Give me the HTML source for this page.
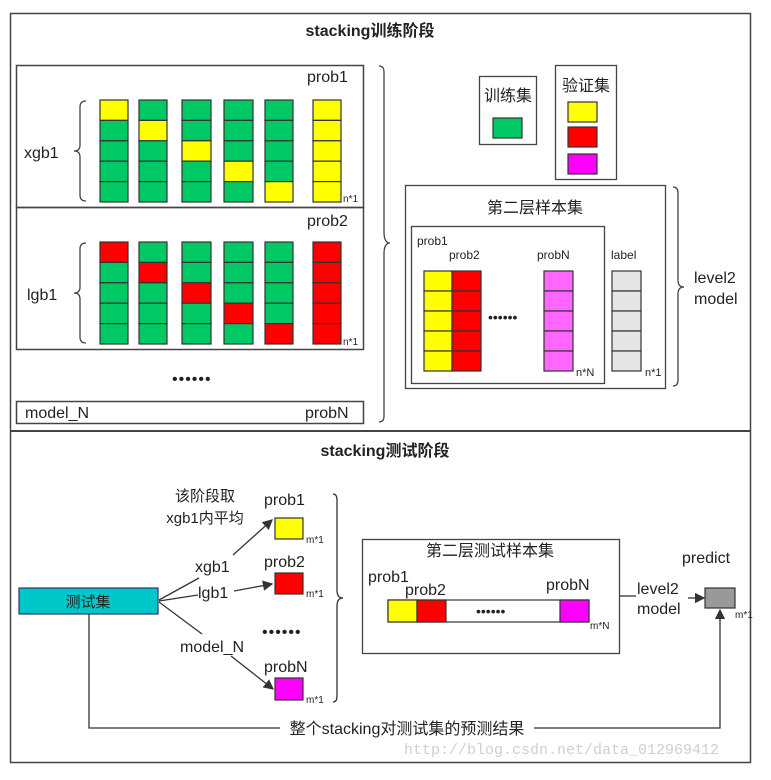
<!DOCTYPE html>
<html><head><meta charset="utf-8"><style>
body{margin:0;background:#fff}
svg{display:block}
text{font-family:"Liberation Sans","Noto Sans CJK SC",sans-serif;fill:#222}
</style></head><body>
<svg width="771" height="780" viewBox="0 0 771 780" xmlns="http://www.w3.org/2000/svg">
<defs><marker id="a" markerWidth="8" markerHeight="8" refX="7" refY="4" orient="auto"><path d="M0,0L8,4L0,8z" fill="#333"/></marker></defs>
<rect x="10.5" y="13.5" width="740" height="749" fill="#fff" stroke="#444" stroke-width="1.5"/>
<line x1="10" y1="431" x2="750" y2="431" stroke="#444" stroke-width="2"/>
<text x="370" y="36" font-size="16" font-weight="bold" text-anchor="middle">stacking训练阶段</text>

<!-- left model boxes -->
<rect x="16.5" y="65.5" width="347" height="142" fill="none" stroke="#444" stroke-width="1.5"/>
<rect x="16.5" y="207.5" width="347" height="142" fill="none" stroke="#444" stroke-width="1.5"/>
<rect x="16.5" y="401.5" width="347" height="22" fill="none" stroke="#444" stroke-width="1.5"/>
<text x="307" y="82" font-size="16">prob1</text>
<text x="307" y="226" font-size="16">prob2</text>
<text x="24" y="158" font-size="16">xgb1</text>
<text x="27" y="300" font-size="16">lgb1</text>
<text x="25" y="418" font-size="16">model_N</text>
<text x="305" y="418" font-size="16">probN</text>
<text x="343" y="202" font-size="10">n*1</text>
<text x="343" y="345" font-size="10">n*1</text>
<text x="172" y="384" font-size="16" letter-spacing="1">••••••</text>
<path d="M86,101 q-6,0 -6,6 v38 q0,6 -6,6 q6,0 6,6 v38 q0,6 6,6" fill="none" stroke="#444" stroke-width="1.3"/>
<path d="M86,243 q-6,0 -6,6 v38 q0,6 -6,6 q6,0 6,6 v38 q0,6 6,6" fill="none" stroke="#444" stroke-width="1.3"/>
<g stroke="#333" stroke-width="1.2" id="g1">
<!-- xgb columns -->
<rect x="100" y="100" width="28" height="20.4" fill="#ffff00"/><rect x="100" y="120.4" width="28" height="20.4" fill="#00c864"/><rect x="100" y="140.8" width="28" height="20.4" fill="#00c864"/><rect x="100" y="161.2" width="28" height="20.4" fill="#00c864"/><rect x="100" y="181.6" width="28" height="20.4" fill="#00c864"/>
<rect x="139" y="100" width="28" height="20.4" fill="#00c864"/><rect x="139" y="120.4" width="28" height="20.4" fill="#ffff00"/><rect x="139" y="140.8" width="28" height="20.4" fill="#00c864"/><rect x="139" y="161.2" width="28" height="20.4" fill="#00c864"/><rect x="139" y="181.6" width="28" height="20.4" fill="#00c864"/>
<rect x="182" y="100" width="29" height="20.4" fill="#00c864"/><rect x="182" y="120.4" width="29" height="20.4" fill="#00c864"/><rect x="182" y="140.8" width="29" height="20.4" fill="#ffff00"/><rect x="182" y="161.2" width="29" height="20.4" fill="#00c864"/><rect x="182" y="181.6" width="29" height="20.4" fill="#00c864"/>
<rect x="224" y="100" width="29" height="20.4" fill="#00c864"/><rect x="224" y="120.4" width="29" height="20.4" fill="#00c864"/><rect x="224" y="140.8" width="29" height="20.4" fill="#00c864"/><rect x="224" y="161.2" width="29" height="20.4" fill="#ffff00"/><rect x="224" y="181.6" width="29" height="20.4" fill="#00c864"/>
<rect x="265" y="100" width="28" height="20.4" fill="#00c864"/><rect x="265" y="120.4" width="28" height="20.4" fill="#00c864"/><rect x="265" y="140.8" width="28" height="20.4" fill="#00c864"/><rect x="265" y="161.2" width="28" height="20.4" fill="#00c864"/><rect x="265" y="181.6" width="28" height="20.4" fill="#ffff00"/>
<rect x="313" y="100" width="28" height="20.4" fill="#ffff00"/><rect x="313" y="120.4" width="28" height="20.4" fill="#ffff00"/><rect x="313" y="140.8" width="28" height="20.4" fill="#ffff00"/><rect x="313" y="161.2" width="28" height="20.4" fill="#ffff00"/><rect x="313" y="181.6" width="28" height="20.4" fill="#ffff00"/>
<!-- lgb columns -->
<rect x="100" y="242" width="28" height="20.4" fill="#ff0000"/><rect x="100" y="262.4" width="28" height="20.4" fill="#00c864"/><rect x="100" y="282.8" width="28" height="20.4" fill="#00c864"/><rect x="100" y="303.2" width="28" height="20.4" fill="#00c864"/><rect x="100" y="323.6" width="28" height="20.4" fill="#00c864"/>
<rect x="139" y="242" width="28" height="20.4" fill="#00c864"/><rect x="139" y="262.4" width="28" height="20.4" fill="#ff0000"/><rect x="139" y="282.8" width="28" height="20.4" fill="#00c864"/><rect x="139" y="303.2" width="28" height="20.4" fill="#00c864"/><rect x="139" y="323.6" width="28" height="20.4" fill="#00c864"/>
<rect x="182" y="242" width="29" height="20.4" fill="#00c864"/><rect x="182" y="262.4" width="29" height="20.4" fill="#00c864"/><rect x="182" y="282.8" width="29" height="20.4" fill="#ff0000"/><rect x="182" y="303.2" width="29" height="20.4" fill="#00c864"/><rect x="182" y="323.6" width="29" height="20.4" fill="#00c864"/>
<rect x="224" y="242" width="29" height="20.4" fill="#00c864"/><rect x="224" y="262.4" width="29" height="20.4" fill="#00c864"/><rect x="224" y="282.8" width="29" height="20.4" fill="#00c864"/><rect x="224" y="303.2" width="29" height="20.4" fill="#ff0000"/><rect x="224" y="323.6" width="29" height="20.4" fill="#00c864"/>
<rect x="265" y="242" width="28" height="20.4" fill="#00c864"/><rect x="265" y="262.4" width="28" height="20.4" fill="#00c864"/><rect x="265" y="282.8" width="28" height="20.4" fill="#00c864"/><rect x="265" y="303.2" width="28" height="20.4" fill="#00c864"/><rect x="265" y="323.6" width="28" height="20.4" fill="#ff0000"/>
<rect x="313" y="242" width="28" height="20.4" fill="#ff0000"/><rect x="313" y="262.4" width="28" height="20.4" fill="#ff0000"/><rect x="313" y="282.8" width="28" height="20.4" fill="#ff0000"/><rect x="313" y="303.2" width="28" height="20.4" fill="#ff0000"/><rect x="313" y="323.6" width="28" height="20.4" fill="#ff0000"/>
</g>
<!-- big brace -->
<path d="M379,66 q5,0 5,6 v160 q0,11 6,11 q-6,0 -6,11 v162 q0,6 -5,6" fill="none" stroke="#444" stroke-width="1.3"/>

<!-- train/valid sets -->
<rect x="479.5" y="76.5" width="57" height="68" fill="none" stroke="#444" stroke-width="1.3"/>
<text x="508" y="101" font-size="16" text-anchor="middle">训练集</text>
<rect x="493" y="118" width="29" height="20" fill="#00c864" stroke="#333" stroke-width="1.2"/>
<rect x="555.5" y="65.5" width="61" height="114" fill="none" stroke="#444" stroke-width="1.3"/>
<text x="586" y="91" font-size="16" text-anchor="middle">验证集</text>
<rect x="568" y="102" width="29" height="20" fill="#ffff00" stroke="#333" stroke-width="1.2"/>
<rect x="568" y="127" width="29" height="20" fill="#ff0000" stroke="#333" stroke-width="1.2"/>
<rect x="568" y="154" width="29" height="20" fill="#ff00ff" stroke="#333" stroke-width="1.2"/>

<!-- level2 sample set -->
<rect x="405.5" y="185.5" width="260" height="203" fill="none" stroke="#444" stroke-width="1.3"/>
<text x="535" y="213" font-size="16" text-anchor="middle">第二层样本集</text>
<rect x="411.5" y="226.5" width="193" height="157" fill="none" stroke="#444" stroke-width="1.3"/>
<text x="417" y="245" font-size="12">prob1</text>
<text x="449" y="259" font-size="12">prob2</text>
<text x="537" y="259" font-size="12">probN</text>
<text x="611" y="259" font-size="12">label</text>
<g stroke="#333" stroke-width="1.2">
<rect x="424" y="271" width="28" height="20" fill="#ffff00"/><rect x="424" y="291" width="28" height="20" fill="#ffff00"/><rect x="424" y="311" width="28" height="20" fill="#ffff00"/><rect x="424" y="331" width="28" height="20" fill="#ffff00"/><rect x="424" y="351" width="28" height="20" fill="#ffff00"/>
<rect x="452" y="271" width="29" height="20" fill="#ff0000"/><rect x="452" y="291" width="29" height="20" fill="#ff0000"/><rect x="452" y="311" width="29" height="20" fill="#ff0000"/><rect x="452" y="331" width="29" height="20" fill="#ff0000"/><rect x="452" y="351" width="29" height="20" fill="#ff0000"/>
<rect x="544" y="271" width="29" height="20" fill="#ff66ff"/><rect x="544" y="291" width="29" height="20" fill="#ff66ff"/><rect x="544" y="311" width="29" height="20" fill="#ff66ff"/><rect x="544" y="331" width="29" height="20" fill="#ff66ff"/><rect x="544" y="351" width="29" height="20" fill="#ff66ff"/>
<rect x="612" y="271" width="29" height="20" fill="#e6e6e6"/><rect x="612" y="291" width="29" height="20" fill="#e6e6e6"/><rect x="612" y="311" width="29" height="20" fill="#e6e6e6"/><rect x="612" y="331" width="29" height="20" fill="#e6e6e6"/><rect x="612" y="351" width="29" height="20" fill="#e6e6e6"/>
</g>
<text x="488" y="322" font-size="14" letter-spacing="0">••••••</text>
<text x="576" y="376" font-size="11">n*N</text>
<text x="645" y="376" font-size="11">n*1</text>
<path d="M673,187 q5,0 5,6 v87 q0,7 6,7 q-6,0 -6,7 v86 q0,6 -5,6" fill="none" stroke="#444" stroke-width="1.3"/>
<text x="694" y="283" font-size="16">level2</text>
<text x="694" y="304" font-size="16">model</text>

<!-- test phase -->
<text x="385" y="456" font-size="16" font-weight="bold" text-anchor="middle">stacking测试阶段</text>
<rect x="19" y="588" width="139" height="26" fill="#00c8c8" stroke="#336" stroke-width="1.2"/>
<text x="88" y="607" font-size="15" text-anchor="middle">测试集</text>
<text x="205" y="501" font-size="15" text-anchor="middle">该阶段取</text>
<text x="205" y="523" font-size="15" text-anchor="middle">xgb1内平均</text>
<text x="264" y="505" font-size="16">prob1</text>
<rect x="275" y="518" width="28" height="21" fill="#ffff00" stroke="#333" stroke-width="1.2"/>
<text x="306" y="543" font-size="10">m*1</text>
<text x="264" y="567" font-size="16">prob2</text>
<rect x="275" y="573" width="28" height="21" fill="#ff0000" stroke="#333" stroke-width="1.2"/>
<text x="306" y="597" font-size="10">m*1</text>
<text x="262" y="637" font-size="16" letter-spacing="1">••••••</text>
<text x="264" y="672" font-size="16">probN</text>
<rect x="275" y="678" width="28" height="22" fill="#ff00ff" stroke="#333" stroke-width="1.2"/>
<text x="306" y="703" font-size="10">m*1</text>
<text x="195" y="572" font-size="16">xgb1</text>
<text x="198" y="598" font-size="16">lgb1</text>
<text x="180" y="652" font-size="16">model_N</text>
<g stroke="#333" stroke-width="1.3" fill="none">
<line x1="159" y1="600" x2="199" y2="578"/>
<line x1="233" y1="555" x2="272" y2="520" marker-end="url(#a)"/>
<line x1="159" y1="601" x2="198" y2="595"/>
<line x1="234" y1="591" x2="272" y2="584" marker-end="url(#a)"/>
<line x1="159" y1="602" x2="202" y2="634"/>
<line x1="231" y1="656" x2="273" y2="689" marker-end="url(#a)"/>
<path d="M333,494 q4,0 4,6 v90 q0,8 6,8 q-6,0 -6,8 v90 q0,6 -4,6"/>
</g>
<rect x="362.5" y="539.5" width="257" height="114" fill="none" stroke="#444" stroke-width="1.3"/>
<text x="490" y="556" font-size="16" text-anchor="middle">第二层测试样本集</text>
<text x="368" y="582" font-size="16">prob1</text>
<text x="405" y="595" font-size="16">prob2</text>
<text x="546" y="590" font-size="16">probN</text>
<rect x="388" y="600" width="201" height="22" fill="#fff" stroke="#333" stroke-width="1.2"/>
<rect x="388" y="600" width="29" height="22" fill="#ffff00" stroke="#333" stroke-width="1.2"/>
<rect x="417" y="600" width="29" height="22" fill="#ff0000" stroke="#333" stroke-width="1.2"/>
<rect x="560" y="600" width="29" height="22" fill="#ff00ff" stroke="#333" stroke-width="1.2"/>
<text x="476" y="616" font-size="14">••••••</text>
<text x="590" y="629" font-size="10">m*N</text>
<line x1="620" y1="596" x2="636" y2="596" stroke="#333" stroke-width="1.3"/>
<text x="637" y="594" font-size="16">level2</text>
<text x="637" y="614" font-size="16">model</text>
<line x1="688" y1="598" x2="704" y2="598" stroke="#333" stroke-width="1.3" marker-end="url(#a)"/>
<rect x="705" y="588" width="30" height="20" fill="#999" stroke="#333" stroke-width="1.2"/>
<text x="682" y="563" font-size="16">predict</text>
<text x="735" y="618" font-size="10">m*1</text>
<path d="M89,614 V728 H720 V610" fill="none" stroke="#333" stroke-width="1.3" marker-end="url(#a)"/>
<rect x="280" y="719" width="254" height="18" fill="#fff"/>
<text x="407" y="734" font-size="16" text-anchor="middle">整个stacking对测试集的预测结果</text>
<text x="404" y="754" font-size="15" fill="#ccc" style="fill:#cfcfcf;font-family:'Liberation Mono',monospace">http://blog.csdn.net/data_012969412</text>
</svg>
</body></html>
